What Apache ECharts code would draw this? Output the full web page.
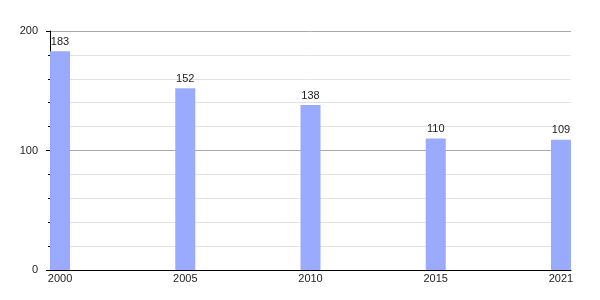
<!DOCTYPE html>
<html>
<head>
<meta charset="utf-8">
<script src="https://cdn.jsdelivr.net/npm/echarts@6/dist/echarts.min.js"></script>
<style>html,body{margin:0;padding:0;background:#fff;}#c{width:600px;height:300px;}</style>
</head>
<body>
<div id="c"></div>
<script>
const categories = ['2000', '2005', '2010', '2015', '2021'];
const values = [183, 152, 138, 110, 109];
const yTicks = [0, 100, 200];

const chart = echarts.init(document.getElementById('c'), null, {renderer: 'canvas'});
const data = values.map((v, i) => [i, v]);
chart.setOption({
  animation: false,
  grid: {left: 50, right: 29, top: 31, bottom: 30, containLabel: false},
  xAxis: {
    type: 'value',
    min: -0.08,
    max: 4.08,
    splitLine: {show: false},
    axisLine: {show: true, onZero: false, lineStyle: {color: '#000', width: 1}},
    axisTick: {show: false},
    axisLabel: {
      customValues: [0, 1, 2, 3, 4],
      formatter: v => categories[Math.round(v)],
      color: '#222', fontSize: 11, fontFamily: 'Liberation Sans, Arial, sans-serif', margin: 3
    }
  },
  yAxis: {
    type: 'value',
    min: yTicks[0],
    max: yTicks[yTicks.length - 1],
    interval: 100,
    axisLine: {show: true, onZero: false, lineStyle: {color: '#000', width: 1}},
    axisTick: {show: true, length: 4, lineStyle: {color: '#000'}},
    minorTick: {show: true, splitNumber: 5, length: 2, lineStyle: {color: '#000'}},
    splitLine: {show: true, lineStyle: {color: '#aaaaaa', width: 1}},
    minorSplitLine: {show: true, lineStyle: {color: '#e2e2e2', width: 1}},
    axisLabel: {color: '#222', fontSize: 11, fontFamily: 'Liberation Sans, Arial, sans-serif', margin: 12}
  },
  series: [{
    type: 'bar',
    data: data,
    barWidth: 20,
    itemStyle: {color: '#9aabff'},
    label: {show: true, position: 'top', distance: 4, color: '#222', fontSize: 11, fontFamily: 'Liberation Sans, Arial, sans-serif'}
  }]
});
</script>
</body>
</html>
